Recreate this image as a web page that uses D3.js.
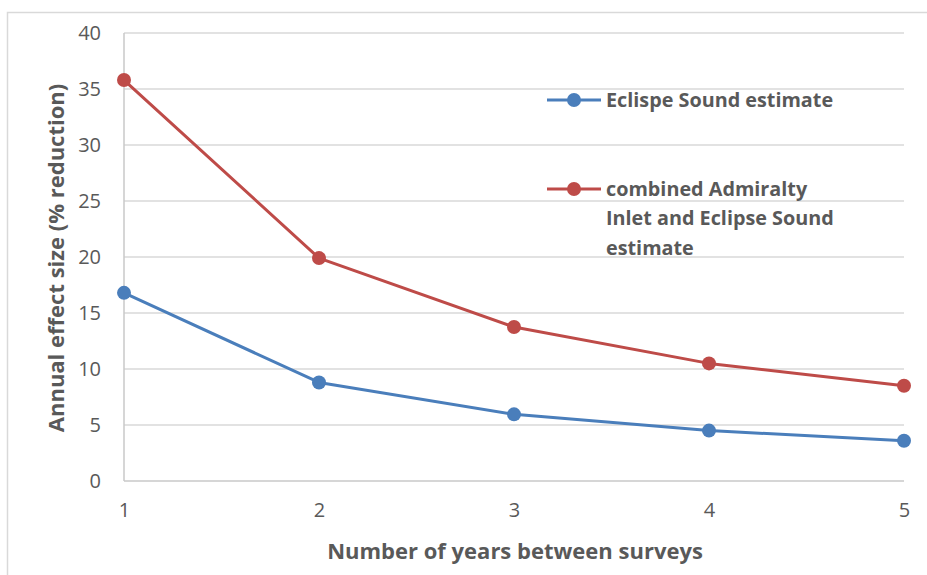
<!DOCTYPE html>
<html>
<head>
<meta charset="utf-8">
<script src="https://cdn.jsdelivr.net/npm/d3@7"></script>
<style>
  html, body { margin: 0; padding: 0; background: #fff; }
  svg { display: block; }
  text { font-family: "Open Sans", "Noto Sans", sans-serif; fill: #595959; }
</style>
</head>
<body>
<svg id="chart" width="927" height="575"></svg>
<script>
const years = [1, 2, 3, 4, 5];
const eclipseSound = [16.8, 8.8, 5.95, 4.5, 3.6];
const combined = [35.8, 19.9, 13.75, 10.5, 8.5];
const yTicks = [0, 5, 10, 15, 20, 25, 30, 35, 40];
const seriesNames = ["Eclispe Sound estimate", "combined Admiralty Inlet and Eclipse Sound estimate"];
const legendLines = [["Eclispe Sound estimate"], ["combined Admiralty", "Inlet and Eclipse Sound", "estimate"]];
const colors = ["#4a7ebb", "#be4b48"];

const svg = d3.select("#chart");
const W = 927, H = 575;

// outer border
svg.append("rect").attr("x", 7.5).attr("y", 12.5).attr("width", W).attr("height", H)
  .attr("fill", "none").attr("stroke", "#d9d9d9").attr("stroke-width", 1.5);

const x = d3.scaleLinear().domain([1, 5]).range([124, 904]);
const y = d3.scaleLinear().domain([0, 40]).range([481, 33]);

// gridlines
svg.append("g").selectAll("line").data(yTicks).join("line")
  .attr("x1", 124).attr("x2", 904)
  .attr("y1", d => y(d)).attr("y2", d => y(d))
  .attr("stroke", d => d === 0 ? "#c8c8c8" : "#d9d9d9").attr("stroke-width", 1.5);
// left axis line
svg.append("line").attr("x1", 124).attr("x2", 124).attr("y1", y(40)).attr("y2", y(0))
  .attr("stroke", "#c8c8c8").attr("stroke-width", 1.5);

// y axis tick labels
const yAxis = d3.axisLeft(y).tickValues(yTicks).tickSize(0).tickPadding(23);
const gy = svg.append("g").attr("transform", "translate(124,0)").call(yAxis);
gy.select(".domain").remove();
gy.selectAll("text").style("font-size", "20px").attr("fill", "#595959")
  .style("font-family", '"Open Sans", sans-serif');

// x axis tick labels
const xAxis = d3.axisBottom(x).tickValues(years).tickFormat(d3.format("d")).tickSize(0).tickPadding(22);
const gx = svg.append("g").attr("transform", "translate(0,481)").call(xAxis);
gx.select(".domain").remove();
gx.selectAll("text").style("font-size", "20px").attr("fill", "#595959")
  .style("font-family", '"Open Sans", sans-serif');

// axis titles
svg.append("text").attr("x", 515).attr("y", 559).attr("text-anchor", "middle")
  .style("font-size", "22px").style("font-weight", "bold").text("Number of years between surveys");
svg.append("text").attr("transform", "translate(64,258) rotate(-90)").attr("text-anchor", "middle")
  .style("font-size", "22px").style("font-weight", "bold").text("Annual effect size (% reduction)");

// series
const line = d3.line().x((d, i) => x(years[i])).y(d => y(d));
[eclipseSound, combined].forEach((vals, k) => {
  const g = svg.append("g");
  g.append("path").datum(vals).attr("d", line).attr("fill", "none")
    .attr("stroke", colors[k]).attr("stroke-width", 3).attr("stroke-linejoin", "round");
  g.selectAll("circle").data(vals).join("circle")
    .attr("cx", (d, i) => x(years[i])).attr("cy", d => y(d)).attr("r", 7)
    .attr("fill", colors[k]);
});

// legend
const legendY = [100, 189];
legendLines.forEach((lines, k) => {
  const g = svg.append("g");
  g.append("line").attr("x1", 547).attr("x2", 601).attr("y1", legendY[k]).attr("y2", legendY[k])
    .attr("stroke", colors[k]).attr("stroke-width", 3);
  g.append("circle").attr("cx", 574).attr("cy", legendY[k]).attr("r", 7).attr("fill", colors[k]);
  lines.forEach((t, j) => {
    g.append("text").attr("x", 606).attr("y", legendY[k] + j * 29.5).attr("dy", "0.35em")
      .style("font-size", "19.8px").style("font-weight", "bold").text(t);
  });
});
</script>
</body>
</html>
